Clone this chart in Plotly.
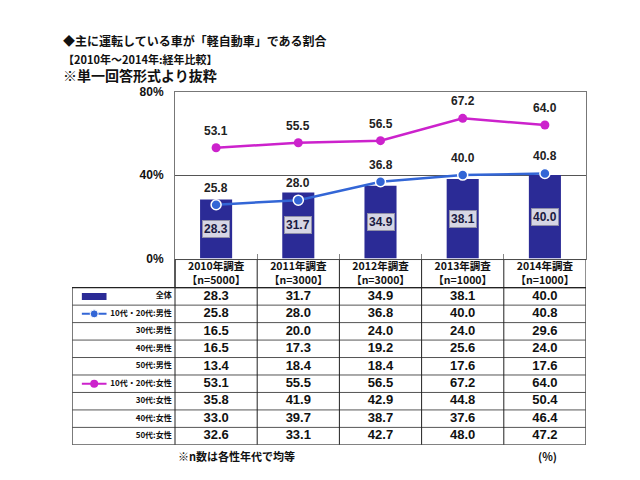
import plotly.graph_objects as go

# ---------------- data ----------------
years = ["2010年調査", "2011年調査", "2012年調査", "2013年調査", "2014年調査"]
sample_sizes = ["【n=5000】", "【n=3000】", "【n=3000】", "【n=1000】", "【n=1000】"]
row_labels = ["全体", "10代・20代:男性", "30代:男性", "40代:男性", "50代:男性",
              "10代・20代:女性", "30代:女性", "40代:女性", "50代:女性"]
total = [28.3, 31.7, 34.9, 38.1, 40.0]
male_1020 = [25.8, 28.0, 36.8, 40.0, 40.8]
male_30 = [16.5, 20.0, 24.0, 24.0, 29.6]
male_40 = [16.5, 17.3, 19.2, 25.6, 24.0]
male_50 = [13.4, 18.4, 18.4, 17.6, 17.6]
female_1020 = [53.1, 55.5, 56.5, 67.2, 64.0]
female_30 = [35.8, 41.9, 42.9, 44.8, 50.4]
female_40 = [33.0, 39.7, 38.7, 37.6, 46.4]
female_50 = [32.6, 33.1, 42.7, 48.0, 47.2]
y_ticks = [0, 40, 80]
y_tick_labels = ["0%", "40%", "80%"]

series_rows = [total, male_1020, male_30, male_40, male_50,
               female_1020, female_30, female_40, female_50]

# ---------------- style / geometry ----------------
OFF = 8                      # page body margin of the html page
FW, FH = 640 - OFF, 480 - OFF
FONT = "Arial, 'Liberation Sans', 'Noto Sans CJK JP', sans-serif"
JFONT = "'Noto Sans CJK JP', sans-serif"
BAR_C = "#2B2B96"
BLUE = "#3366D6"
MAG = "#CC22CC"
LINE_C = "#222"


def px(x):
    return (x - OFF) / FW


def py(y):
    return 1 - (y - OFF) / FH


plot_l, plot_r, plot_t, plot_b = 175, 586, 87, 259
tab_l, tab_t = 72, 260
head_h, row_h = 29, 18
n_rows = len(row_labels)
n_cols = len(years)
tab_b = tab_t + head_h + row_h * n_rows
col_w = (plot_r - plot_l) / n_cols
lab_w = (plot_l - tab_l) / col_w          # label column width in column units
hd_h = head_h / row_h                     # header height in row units

xs = list(range(n_cols))

fig = go.Figure()

# ---------------- chart ----------------
fig.add_trace(go.Bar(x=xs, y=total, width=0.39, marker=dict(color=BAR_C, line=dict(width=0)),
                     showlegend=False, hoverinfo="skip"))
fig.add_trace(go.Scatter(x=xs, y=male_1020, mode="lines+markers",
                         line=dict(color=BLUE, width=2.5),
                         marker=dict(size=10, color=BLUE, line=dict(color="white", width=1.5)),
                         showlegend=False, hoverinfo="skip"))
fig.add_trace(go.Scatter(x=xs, y=female_1020, mode="lines+markers",
                         line=dict(color=MAG, width=2.5),
                         marker=dict(size=9, color=MAG),
                         showlegend=False, hoverinfo="skip"))

annotations = []
for i, v in enumerate(total):
    annotations.append(dict(x=i, y=v / 2, xref="x", yref="y", text=f"<b>{v:.1f}</b>",
                            showarrow=False, font=dict(family=FONT, size=12, color="#1a1a40"),
                            bgcolor="#D6D6E4", bordercolor="#9090A8", borderwidth=1, borderpad=1))
for series in (male_1020, female_1020):
    for i, v in enumerate(series):
        annotations.append(dict(x=i, y=v, xref="x", yref="y", text=f"<b>{v:.1f}</b>",
                                showarrow=False, yshift=17,
                                font=dict(family=FONT, size=12, color="#222")))

# title block (three lines in one text)
title_lines = [("◆主に運転している車が「軽自動車」である割合", 12),
               ("【2010年～2014年:経年比較】", 11),
               ("※単一回答形式より抜粋", 14)]
title_text = "<br>".join(f"<span style='font-size:{fs}px'><b>{t}</b></span>"
                         for t, fs in title_lines)
annotations.append(dict(x=px(62), y=py(52.5), xref="paper", yref="paper", text=title_text,
                        showarrow=False, xanchor="left", yanchor="middle", align="left",
                        borderpad=0, font=dict(family=JFONT, size=13.5, color="#111")))

# footnotes
annotations.append(dict(x=px(176), y=py(462), xref="paper", yref="paper",
                        text="<b>※n数は各性年代で均等</b>", showarrow=False, xanchor="left",
                        yanchor="middle", font=dict(family=JFONT, size=11, color="#111")))
annotations.append(dict(x=px(547), y=py(462), xref="paper", yref="paper",
                        text="<b>(%)</b>", showarrow=False, xanchor="center",
                        yanchor="middle", font=dict(family=JFONT, size=11, color="#111")))

# ---------------- table (own axes: x = column index, y = row index) ----------------
rows = list(range(n_rows))
for j in range(n_cols):
    fig.add_trace(go.Scatter(
        x=[j] * n_rows, y=rows, mode="text",
        text=[f"<b>{r[j]:.1f}</b>" for r in series_rows],
        textfont=dict(family=FONT, size=13, color="#111"),
        xaxis="x2", yaxis="y2", showlegend=False, hoverinfo="skip", cliponaxis=False))
# row labels (right aligned)
fig.add_trace(go.Scatter(
    x=[-0.5 - 0.04] * n_rows, y=rows, mode="text", textposition="middle left",
    text=[f"<b>{lab}</b>" for lab in row_labels],
    textfont=dict(family=JFONT, size=8, color="#111"),
    xaxis="x2", yaxis="y2", showlegend=False, hoverinfo="skip", cliponaxis=False))
# header (two lines placed separately)
y_head = -0.5 - hd_h
fig.add_trace(go.Scatter(
    x=xs, y=[y_head + 8.3 / row_h] * n_cols, mode="text",
    text=[f"<b>{y}</b>" for y in years],
    textfont=dict(family=JFONT, size=10.5, color="#111"),
    xaxis="x2", yaxis="y2", showlegend=False, hoverinfo="skip", cliponaxis=False))
fig.add_trace(go.Scatter(
    x=xs, y=[y_head + 22.2 / row_h] * n_cols, mode="text",
    text=[f"<b>{n}</b>" for n in sample_sizes],
    textfont=dict(family=JFONT, size=10.5, color="#111"),
    xaxis="x2", yaxis="y2", showlegend=False, hoverinfo="skip", cliponaxis=False))

# legend icons in the label column
icon_x0, icon_x1 = -0.5 - lab_w + 0.12, -0.5 - lab_w + 0.42
for idx, col, mk in ((1, BLUE, dict(size=8, color=BLUE, line=dict(color="white", width=1))),
                     (5, MAG, dict(size=8, color=MAG))):
    fig.add_trace(go.Scatter(
        x=[icon_x0, icon_x1], y=[idx, idx], mode="lines", line=dict(color=col, width=2),
        xaxis="x2", yaxis="y2", showlegend=False, hoverinfo="skip"))
    fig.add_trace(go.Scatter(
        x=[(icon_x0 + icon_x1) / 2], y=[idx], mode="markers", marker=mk,
        xaxis="x2", yaxis="y2", showlegend=False, hoverinfo="skip"))

shapes = []
shapes.append(dict(type="rect", xref="x2", yref="y2", x0=icon_x0, x1=icon_x1,
                   y0=-0.2, y1=0.2, fillcolor=BAR_C, line=dict(width=0), layer="above"))
# table borders
x_left, x_right = -0.5 - lab_w, n_cols - 0.5
shapes.append(dict(type="rect", xref="x2", yref="y2", x0=-0.5, x1=x_right, y0=y_head, y1=-0.5,
                   line=dict(color=LINE_C, width=1)))
shapes.append(dict(type="rect", xref="x2", yref="y2", x0=x_left, x1=x_right, y0=-0.5,
                   y1=n_rows - 0.5, line=dict(color=LINE_C, width=1.2)))
for k in range(n_rows - 1):
    shapes.append(dict(type="line", xref="x2", yref="y2", x0=x_left, x1=x_right,
                       y0=k + 0.5, y1=k + 0.5, line=dict(color="#555", width=1)))
for j in range(n_cols):
    shapes.append(dict(type="line", xref="x2", yref="y2", x0=j - 0.5, x1=j - 0.5,
                       y0=y_head, y1=n_rows - 0.5, line=dict(color=LINE_C, width=1)))

fig.update_layout(
    width=FW, height=FH, autosize=False,
    margin=dict(l=0, r=0, t=0, b=0),
    paper_bgcolor="white", plot_bgcolor="white",
    showlegend=False,
    annotations=annotations,
    shapes=shapes,
    xaxis=dict(domain=[px(plot_l), px(plot_r)], range=[-0.5, n_cols - 0.5],
               tickvals=[k + 0.5 for k in xs[:-1]], ticks="inside", ticklen=5,
               tickcolor="#888", showticklabels=False, showgrid=False, zeroline=False,
               showline=True, linecolor="#777", linewidth=1, mirror=True, fixedrange=True),
    yaxis=dict(domain=[py(plot_b), py(plot_t)], range=[0, 80],
               tickvals=y_ticks, ticktext=[f"<b>{t}</b>" for t in y_tick_labels],
               tickfont=dict(family=FONT, size=12, color="#111"),
               ticks="", ticklabelstandoff=8,
               showgrid=True, gridcolor="#555", gridwidth=1, zeroline=False,
               showline=True, linecolor="#777", linewidth=1, mirror=True, fixedrange=True),
    xaxis2=dict(domain=[px(tab_l), px(plot_r)], range=[x_left, x_right], visible=False,
                fixedrange=True, anchor="y2"),
    yaxis2=dict(domain=[py(tab_b), py(tab_t)], range=[n_rows - 0.5, y_head], visible=False,
                fixedrange=True, anchor="x2"),
)

fig.write_html("out.html")
